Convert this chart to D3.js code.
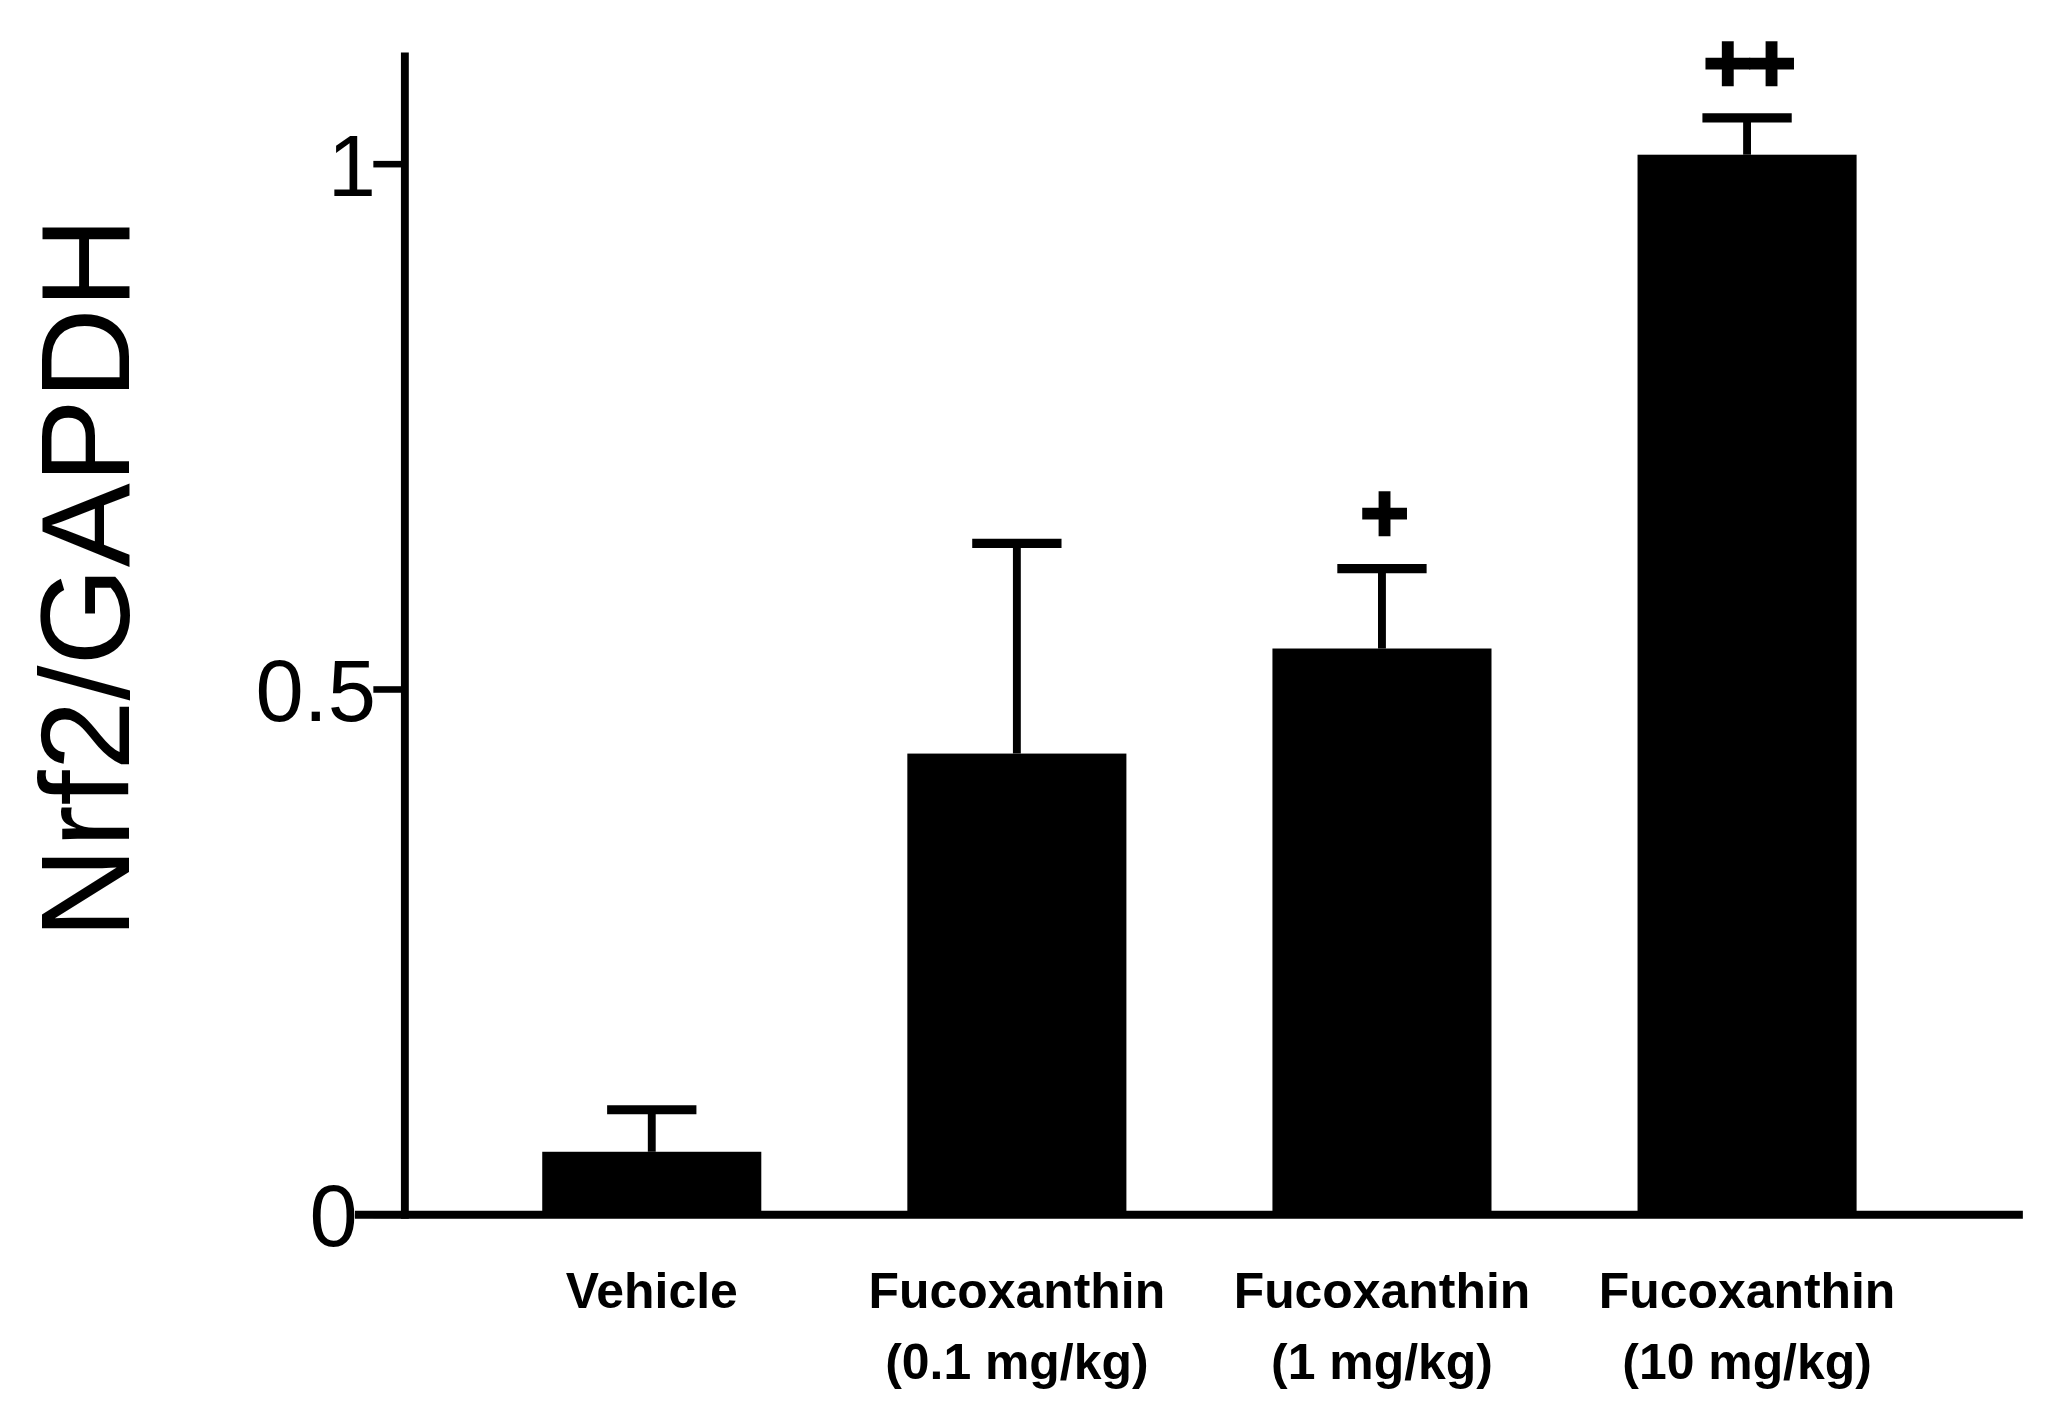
<!DOCTYPE html>
<html><head><meta charset="utf-8">
<script src="https://cdn.jsdelivr.net/npm/d3@7"></script>
<style>body{margin:0;background:#fff}</style></head>
<body><svg id="c" width="2060" height="1421" viewBox="0 0 1568 1082"></svg>
<script>
const categories=[["Vehicle"],["Fucoxanthin","(0.1 mg/kg)"],["Fucoxanthin","(1 mg/kg)"],["Fucoxanthin","(10 mg/kg)"]];
const values=[0.06,0.439,0.539,1.009];
const errors=[0.04,0.2,0.076,0.035];
const marks=["","","+","++"];
const yTicks=[0,0.5,1];
const yTickLabels=["0","0.5","1"];
const svg=d3.select("#c");
const y=d3.scaleLinear().domain([0,1]).range([925,125]);
const x=d3.scaleBand().domain(d3.range(4)).range([357,1469]).paddingInner(0.4).paddingOuter(0.2);
const g=svg.append("g");
values.forEach((v,i)=>{
  const x0=x(i),w=x.bandwidth(),cx=x0+w/2;
  g.append("rect").attr("x",x0).attr("y",y(v)).attr("width",w).attr("height",y(0)-y(v)).attr("fill","#000");
  const te=y(v+errors[i]);
  g.append("line").attr("x1",cx).attr("x2",cx).attr("y1",y(v)).attr("y2",te).attr("stroke","#000").attr("stroke-width",6);
  g.append("line").attr("x1",cx-34).attr("x2",cx+34).attr("y1",te).attr("y2",te).attr("stroke","#000").attr("stroke-width",7);
  if(marks[i]) g.append("text").attr("x",cx).attr("y",te-20).attr("text-anchor","middle")
    .attr("font-family","Liberation Sans, Arial").attr("font-weight","bold").attr("font-size",64).attr("letter-spacing",-4)
    .attr("stroke","#000").attr("stroke-width",2).text(marks[i]);
  categories[i].forEach((t,k)=>g.append("text").attr("x",cx).attr("y",996+k*54).attr("text-anchor","middle")
    .attr("font-family","Liberation Sans, Arial").attr("font-weight","bold").attr("font-size",38).text(t));
});
g.append("line").attr("x1",270).attr("x2",1540).attr("y1",y(0)).attr("y2",y(0)).attr("stroke","#000").attr("stroke-width",6);
g.append("line").attr("x1",308).attr("x2",308).attr("y1",40).attr("y2",y(0)+3).attr("stroke","#000").attr("stroke-width",6);
yTicks.forEach((t,i)=>{
  g.append("line").attr("x1",284).attr("x2",308).attr("y1",y(t)).attr("y2",y(t)).attr("stroke","#000").attr("stroke-width",5);
  g.append("text").attr("x",t===0?272:286).attr("y",y(t)+24).attr("text-anchor","end").attr("font-family","Liberation Sans, Arial")
    .attr("font-size",66).text(yTickLabels[i]);
});
g.append("text").attr("transform","translate(98,440) rotate(-90)").attr("text-anchor","middle")
  .attr("font-family","Liberation Sans, Arial").attr("font-size",96).text("Nrf2/GAPDH");
</script></body></html>
